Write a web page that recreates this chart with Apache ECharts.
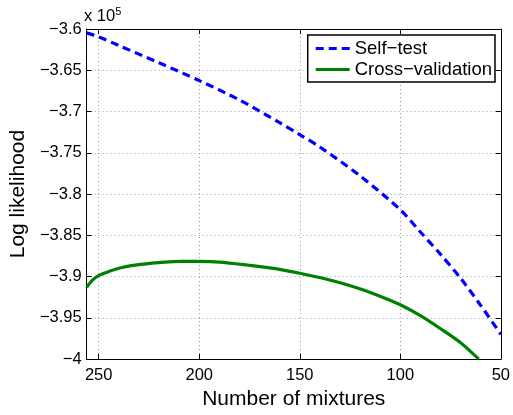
<!DOCTYPE html>
<html>
<head>
<meta charset="utf-8">
<script src="https://cdn.jsdelivr.net/npm/echarts@6/dist/echarts.min.js"></script>
<style>
  html, body { margin: 0; padding: 0; background: #fff; }
  #chart { width: 513px; height: 415px; }
</style>
</head>
<body>
<div id="chart"></div>
<script>
// Self-test curve (number of mixtures, log likelihood)
const selfTestX = [256, 250, 240, 220, 200, 180, 160, 150, 140, 120, 100, 90, 80, 70, 60, 50]
const selfTestY = [-360470, -360950, -362000, -364100, -366250, -368600, -371350, -372800, -374300, -377800, -381900, -384600, -387300, -390200, -393500, -397000]

// Cross-validation curve
const crossValX = [256, 253, 250, 245, 239, 229, 217, 209, 200, 190, 176, 163, 150, 137, 124, 111, 100, 90, 80, 70, 62, 61]
const crossValY = [-391300, -390400, -389880, -389400, -388930, -388530, -388250, -388170, -388170, -388240, -388600, -389000, -389600, -390300, -391180, -392280, -393420, -394740, -396320, -398020, -399760, -400000]

const xTicks = [250, 200, 150, 100, 50]

const font = 'Liberation Sans, Arial, Helvetica, sans-serif'
const minus = (s) => s.replace('-', '\u2212')

const pairs = (xs, ys) => xs.map((x, i) => [x, ys[i]])

const chart = echarts.init(document.getElementById('chart'))

const xBase = {
  type: 'value',
  min: 50,
  max: 256,
  interval: 50,
  inverse: true,
  axisLine: { show: true, onZero: false, lineStyle: { color: '#000', width: 1 } },
  axisTick: { show: true, inside: true, length: 5, lineStyle: { color: '#000' } }
}
const yBase = {
  type: 'value',
  min: -400000,
  max: -360000,
  interval: 5000,
  axisLine: { show: true, onZero: false, lineStyle: { color: '#000', width: 1 } },
  axisTick: { show: true, inside: true, length: 5, lineStyle: { color: '#000' } }
}

chart.setOption({
  animation: false,
  grid: { left: 84, right: 8, top: 29, bottom: 49 },
  xAxis: [
    Object.assign({}, xBase, {
      position: 'bottom',
      name: 'Number of mixtures',
      nameLocation: 'middle',
      nameGap: 25,
      nameTextStyle: { fontFamily: font, fontSize: 21, color: '#000' },
      axisLabel: {
        fontFamily: font, fontSize: 16.5, color: '#000', margin: 8,
        formatter: (v) => (xTicks.indexOf(v) >= 0 ? String(v) : '')
      },
      splitLine: { show: true, lineStyle: { color: '#999', type: [1, 3], width: 1 } }
    }),
    Object.assign({}, xBase, {
      position: 'top',
      axisLabel: { show: false },
      splitLine: { show: false }
    })
  ],
  yAxis: [
    Object.assign({}, yBase, {
      position: 'left',
      name: 'Log likelihood',
      nameLocation: 'middle',
      nameGap: 57,
      nameTextStyle: { fontFamily: font, fontSize: 21, color: '#000' },
      axisLabel: {
        fontFamily: font, fontSize: 16.5, color: '#000', margin: 5,
        formatter: (v) => minus(String(Math.round(v / 100) / 1000))
      },
      splitLine: { show: true, lineStyle: { color: '#999', type: [1, 3], width: 1 } }
    }),
    Object.assign({}, yBase, {
      position: 'right',
      axisLabel: { show: false },
      splitLine: { show: false }
    })
  ],
  legend: {
    orient: 'vertical',
    right: 18,
    top: 35,
    backgroundColor: '#fff',
    borderColor: '#000',
    borderWidth: 1.5,
    borderRadius: 0,
    padding: [4, 3, 3, 8],
    itemGap: 2,
    itemWidth: 34,
    itemHeight: 20,
    textStyle: { fontFamily: font, fontSize: 18.5, color: '#000', padding: [0, 0, 0, 0] },
    data: [
      { name: 'Self\u2212test', icon: 'path://M0,9 L8,9 L8,12 L0,12 Z M13,9 L21,9 L21,12 L13,12 Z M26,9 L34,9 L34,12 L26,12 Z' },
      { name: 'Cross\u2212validation', icon: 'path://M0,9 L34,9 L34,12 L0,12 Z' }
    ]
  },
  graphic: [
    {
      type: 'text',
      left: 84,
      top: 6,
      style: {
        text: 'x 10{sup|5}',
        fontFamily: font,
        fontSize: 16.5,
        fill: '#000',
        rich: { sup: { fontFamily: font, fontSize: 11, verticalAlign: 'top', padding: [0, 0, 9, 0] } }
      }
    }
  ],
  series: [
    {
      name: 'Self\u2212test',
      type: 'line',
      smooth: 0.3,
      symbol: 'none',
      clip: true,
      data: pairs(selfTestX, selfTestY),
      itemStyle: { color: '#0000ff' },
      lineStyle: { color: '#0000ff', width: 3.2, type: [8, 5] }
    },
    {
      name: 'Cross\u2212validation',
      type: 'line',
      smooth: 0.3,
      symbol: 'none',
      clip: true,
      data: pairs(crossValX, crossValY),
      itemStyle: { color: '#008000' },
      lineStyle: { color: '#008000', width: 3.2 }
    }
  ]
})
</script>
</body>
</html>
